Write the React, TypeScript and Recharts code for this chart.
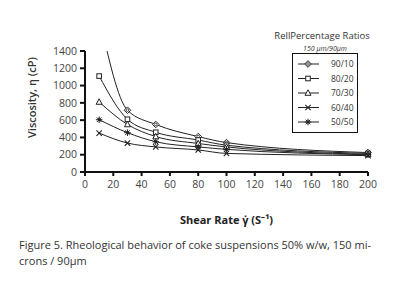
import React from 'react';
import { LineChart, Line, XAxis, YAxis, Label } from 'recharts';

document.body.style.margin = '0';

const shearRates = [10, 30, 50, 80, 100, 200];
const ratio90_10 = [1800, 715, 550, 410, 340, 225];
const ratio80_20 = [1110, 610, 460, 370, 310, 215];
const ratio70_30 = [810, 550, 410, 330, 290, 205];
const ratio60_40 = [450, 335, 290, 255, 215, 190];
const ratio50_50 = [605, 455, 350, 290, 262, 200];

const xTicks = [0, 20, 40, 60, 80, 100, 120, 140, 160, 180, 200];
const yTicks = [0, 200, 400, 600, 800, 1000, 1200, 1400];

const series = [
  { key: 'r90', name: '90/10', marker: 'diamond', values: ratio90_10 },
  { key: 'r80', name: '80/20', marker: 'square', values: ratio80_20 },
  { key: 'r70', name: '70/30', marker: 'triangle', values: ratio70_30 },
  { key: 'r60', name: '60/40', marker: 'cross', values: ratio60_40 },
  { key: 'r50', name: '50/50', marker: 'star', values: ratio50_50 },
];

const data = shearRates.map((x, i) => {
  const row: any = { x };
  series.forEach((s) => (row[s.key] = s.values[i]));
  return row;
});

const INK = '#222';
const FONT = 'Open Sans, sans-serif';

function Marker({ kind, cx, cy }: { kind: string; cx: number; cy: number }) {
  switch (kind) {
    case 'diamond':
      return (
        <g>
          <polygon points={`${cx},${cy - 3.3} ${cx + 3.3},${cy} ${cx},${cy + 3.3} ${cx - 3.3},${cy}`} fill="#fff" stroke={INK} strokeWidth={1} />
          <circle cx={cx} cy={cy} r={1.3} fill="none" stroke={INK} strokeWidth={0.8} />
        </g>
      );
    case 'square':
      return <rect x={cx - 2.3} y={cy - 2.3} width={4.6} height={4.6} fill="#fff" stroke={INK} strokeWidth={1} />;
    case 'triangle':
      return <polygon points={`${cx},${cy - 3.2} ${cx + 3},${cy + 2.3} ${cx - 3},${cy + 2.3}`} fill="#fff" stroke={INK} strokeWidth={1} />;
    case 'cross':
      return (
        <path d={`M${cx - 2.7},${cy - 2.7}L${cx + 2.7},${cy + 2.7}M${cx - 2.7},${cy + 2.7}L${cx + 2.7},${cy - 2.7}`} stroke={INK} strokeWidth={1.1} />
      );
    default:
      return (
        <g>
          <path d={`M${cx},${cy - 3.3}L${cx},${cy + 3.3}M${cx - 3.3},${cy}L${cx + 3.3},${cy}M${cx - 2.3},${cy - 2.3}L${cx + 2.3},${cy + 2.3}M${cx - 2.3},${cy + 2.3}L${cx + 2.3},${cy - 2.3}`} stroke={INK} strokeWidth={1} />
          <circle cx={cx} cy={cy} r={1.4} fill={INK} />
        </g>
      );
  }
}

const makeDot = (kind: string) => (props: any) => {
  const { cx, cy, value, index } = props;
  if (cx == null || cy == null || value > 1400) return <g key={index} />;
  return <g key={index}><Marker kind={kind} cx={cx} cy={cy} /></g>;
};

// legend drawn as a separate svg over the chart
const LegendBox = () => (
  <svg width={403} height={288} style={{ position: 'absolute', left: 0, top: 0, pointerEvents: 'none' }}>
    <text x={322} y={39} textAnchor="middle" fontSize={9.5} fill="#333" fontFamily={FONT}>RellPercentage Ratios</text>
    <text x={325} y={51} textAnchor="middle" fontSize={7} fontStyle="italic" fill="#333" fontFamily={FONT}>150 µm/90µm</text>
    <rect x={292.5} y={53.5} width={65} height={79} fill="#fff" stroke="#111" strokeWidth={1} />
    {series.map((s, i) => {
      const y = 64 + i * 14.5;
      return (
        <g key={s.key}>
          <line x1={298} y1={y} x2={319} y2={y} stroke={INK} strokeWidth={1} />
          <Marker kind={s.marker} cx={308} cy={y} />
          <text x={331} y={y + 3.3} fontSize={8.5} fill="#333" fontFamily={FONT}>{s.name}</text>
        </g>
      );
    })}
  </svg>
);

export default function App() {
  return (
    <div style={{ position: 'relative', width: 403, height: 288, background: '#fff', overflow: 'hidden' }}>
      <LineChart width={403} height={288} data={data} margin={{ top: 51, right: 35, left: 25, bottom: 86 }}>
        <XAxis
          dataKey="x"
          type="number"
          domain={[0, 200]}
          ticks={xTicks}
          interval={0}
          height={30}
          stroke="#111"
          strokeWidth={2}
          tickSize={4}
          tickMargin={5}
          tick={{ fill: '#444', fontSize: 10.5, fontFamily: FONT }}
        >
          <Label
            value="Shear Rate  γ̇ (S⁻¹)"
            position="bottom"
            offset={14}
            style={{ fill: '#222', fontSize: 11, fontWeight: 700, fontFamily: FONT }}
          />
        </XAxis>
        <YAxis
          type="number"
          domain={[0, 1400]}
          ticks={yTicks}
          interval={0}
          allowDataOverflow
          width={60}
          stroke="#111"
          strokeWidth={2}
          tickSize={5}
          tickMargin={3}
          tick={{ fill: '#444', fontSize: 10.5, fontFamily: FONT }}
        >
          <Label
            value="Viscosity, η (cP)"
            angle={-90}
            position="insideLeft"
            offset={0}
            dx={7}
            dy={-14}
            style={{ textAnchor: 'middle', fill: '#333', fontSize: 11, fontWeight: 600, fontFamily: FONT }}
          />
        </YAxis>
        {series.map((s) => (
          <Line
            key={s.key}
            dataKey={s.key}
            name={s.name}
            type="monotone"
            stroke={INK}
            strokeWidth={1}
            dot={makeDot(s.marker)}
            activeDot={false}
            isAnimationActive={false}
          />
        ))}
      </LineChart>
      <LegendBox />
      <div style={{ position: 'absolute', left: 19, top: 237, width: 380, fontFamily: FONT, fontSize: 11, lineHeight: '16px', color: '#333' }}>
        Figure 5. Rheological behavior of coke suspensions 50% w/w, 150 mi-<br />crons / 90µm
      </div>
    </div>
  );
}
